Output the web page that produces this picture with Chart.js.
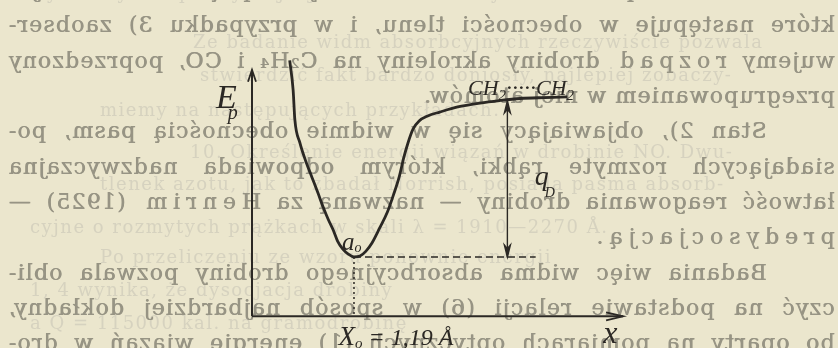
<!DOCTYPE html>
<html lang="pl">
<head>
<meta charset="utf-8">
<title>Krzywa energii potencjalnej</title>
<script src="https://cdn.jsdelivr.net/npm/chart.js@4.4.1/dist/chart.umd.min.js"></script>
<style>
    html, body {
        margin: 0;
        padding: 0;
        background: #ebe6cd;
    }
    #page {
        position: relative;
        width: 838px;
        height: 348px;
        overflow: hidden;
        background: #ebe6cd;
    }
    /* print from the other side of the sheet, seen mirrored */
    #show-through {
        position: absolute;
        left: 8px;
        top: 0;
        width: 827px;
        height: 348px;
        transform: scaleX(-1);
        color: #979484;
        font-family: "DejaVu Serif", serif;
        font-size: 22px;
        letter-spacing: 1.2px;
        text-shadow: 0.6px 0 0 #979484;
        filter: blur(0.55px);
    }
    #show-through .ln {
        position: absolute;
        left: 0;
        width: 100%;
        height: 35px;
        line-height: 35px;
        overflow: hidden;
        text-align: justify;
        text-align-last: justify;
    }
    #show-through .last {
        text-align-last: left;
    }
    #show-through .indent {
        box-sizing: border-box;
        padding-left: 68px;
    }
    .sp {
        letter-spacing: 6px;
    }
    /* faint print of the facing page */
    #facing {
        position: absolute;
        left: 0;
        top: 0;
        width: 838px;
        height: 348px;
        color: #d6d2bf;
        font-family: "DejaVu Serif", serif;
        font-size: 18px;
        letter-spacing: 1.5px;
        filter: blur(0.5px);
    }
    #facing .ln {
        position: absolute;
        white-space: nowrap;
        line-height: 34px;
    }
    #chart {
        position: absolute;
        left: 0;
        top: 0;
    }
</style>
</head>
<body>
<div id="page">
    <div id="facing">
        <div class="ln" style="left:30px;top:-24px">wyznaczyć ciepła dysocjacji drobin na atomy lub rodniki.</div>
        <div class="ln" style="left:193px;top:25px">Ze badanie widm absorbcyjnych rzeczywiście pozwala</div>
        <div class="ln" style="left:200px;top:58px">stwierdzić fakt bardzo doniosły, najlepiej zobaczy-</div>
        <div class="ln" style="left:100px;top:93px">miemy na następujących przykładach.</div>
        <div class="ln" style="left:190px;top:135px">10. Określenie energii wiązań w drobinie NO. Dwu-</div>
        <div class="ln" style="left:100px;top:167px">tlenek azotu, jak to zbadał Norrish, posiada pasma absorb-</div>
        <div class="ln" style="left:30px;top:210px">cyjne o rozmytych prążkach w skali λ = 1910—2270 Å.</div>
        <div class="ln" style="left:100px;top:240px">Po przeliczeniu ze wzoru ponownie energii</div>
        <div class="ln" style="left:30px;top:273px">1, 4 wynika, że dysocjacja drobiny</div>
        <div class="ln" style="left:30px;top:306px">a Q = 115000 kal. na gramodrobinę</div>
    </div>
    <div id="show-through">
        <div class="ln" style="top:-28px">ciśnieniach, odpowiada widmo o ostrych prążkach, reakcje,</div>
        <div class="ln" style="top:7px">które następuje w obecności tlenu, i w przypadku 3) zaobser-</div>
        <div class="ln" style="top:43px">wujemy <span class="sp">rozpad</span> drobiny akroleiny na C₂H₄ i CO, poprzedzony</div>
        <div class="ln last" style="top:78px">przegrupowaniem w niej atomów.</div>
        <div class="ln indent" style="top:113px">Stan 2), objawiający się w widmie obecnością pasm, po-</div>
        <div class="ln" style="top:149px">siadających rozmyte rąbki, którym odpowiada nadzwyczajna</div>
        <div class="ln" style="top:184px">łatwość reagowania drobiny — nazwaną za <span class="sp">Henrim</span> (1925) —</div>
        <div class="ln last" style="top:219px"><span class="sp">predysocjacją</span>.</div>
        <div class="ln indent" style="top:255px">Badania więc widma absorbcyjnego drobiny pozwala obli-</div>
        <div class="ln" style="top:290px">czyć na podstawie relacji (6) w sposób najbardziej dokładny,</div>
        <div class="ln" style="top:325px">bo oparty na pomiarach optycznych (1) energię wiązań w dro-</div>
    </div>
    <canvas id="chart" width="838" height="348"></canvas>
</div>
<script>
// Potential energy curve, distance in Å, energy in arbitrary units (minimum = 0)
const curveX = [0.44, 0.48, 0.50, 0.56, 0.63, 0.70, 0.77, 0.83, 0.89, 0.95, 1.00, 1.06, 1.12, 1.19,
    1.26, 1.33, 1.40, 1.49, 1.58, 1.65, 1.72, 1.77, 1.82, 1.88, 1.95, 2.05, 2.19, 2.40, 2.66, 2.89,
    3.13, 3.42, 3.68];
const curveY = [12.6, 10.7, 8.8, 7.3, 6.1, 5.1, 4.1, 3.2, 2.4, 1.7, 1.0, 0.5, 0.2, 0.0,
    0.06, 0.38, 0.9, 1.86, 2.88, 3.97, 5.19, 6.35, 7.31, 8.21, 8.72, 9.04, 9.29, 9.62, 9.87, 10.03,
    10.16, 10.22, 10.26];

const equilibriumX = 1.19;   // X₀ = 1,19 Å
const minimumEnergy = 0;
const dissociationEnergy = 10;  // q_D
const dissociationX = 2.98;
const levelLineEnd = 3.31;
const xAxisEnd = 4.33;
const yAxisTop = 12;
const axisOrigin = [0, -3.8];

document.addEventListener("DOMContentLoaded", function () {
    const ink = "#2b2824";
    const handFont = "'Liberation Serif', 'DejaVu Serif', serif";

    function pairs(xs, ys) {
        return xs.map((x, i) => ({ x: x, y: ys[i] }));
    }

    function segment(x1, y1, x2, y2, extra) {
        return Object.assign({
            data: [{ x: x1, y: y1 }, { x: x2, y: y2 }],
            showLine: true,
            borderColor: ink,
            borderWidth: 2,
            pointRadius: 0,
            clip: false,
        }, extra || {});
    }

    // Open (or filled) arrowhead from its tip and direction
    function arrowHead(ctx, tx, ty, dx, dy, len, half, filled) {
        const nx = -dy, ny = dx;
        ctx.beginPath();
        ctx.moveTo(tx - dx * len + nx * half, ty - dy * len + ny * half);
        ctx.lineTo(tx, ty);
        ctx.lineTo(tx - dx * len - nx * half, ty - dy * len - ny * half);
        if (filled) {
            ctx.lineTo(tx - dx * len * 0.7, ty - dy * len * 0.7);
            ctx.closePath();
            ctx.fill();
        }
        ctx.stroke();
    }

    // Hand lettered labels: anchor in data units, runs chained left to right
    // (dx/dy nudge a run in pixels, for subscripts)
    const labels = [
        { x: -0.42, y: 9.55, runs: [{ t: "E", s: 34 }, { t: "p", s: 20, dx: -9, dy: 11 }] },
        { x: 2.52, y: 10.38, runs: [{ t: "CH", s: 22 }, { t: "2", s: 15, dy: 5 }, { t: "·····", s: 24 },
            { t: "CH", s: 22 }, { t: "2", s: 15, dy: 5 }] },
        { x: 3.30, y: 4.6, runs: [{ t: "q", s: 28 }, { t: "D", s: 14, dx: -4, dy: 12 }] },
        { x: 1.05, y: 0.45, runs: [{ t: "a", s: 25 }, { t: "o", s: 14, dy: 2 }] },
        { x: 1.01, y: -5.64, runs: [{ t: "X", s: 27 }, { t: "o", s: 15, dy: 3 }, { t: " = 1,19 Å", s: 24 }] },
        { x: 4.10, y: -5.5, runs: [{ t: "x", s: 32 }] },
    ];

    const figurePlugin = {
        id: "figure",
        afterDatasetsDraw(chart) {
            const { ctx, scales } = chart;
            const px = (v) => scales.x.getPixelForValue(v);
            const py = (v) => scales.y.getPixelForValue(v);

            ctx.save();
            ctx.strokeStyle = ink;
            ctx.fillStyle = ink;
            ctx.lineWidth = 1.8;

            // axis arrows
            arrowHead(ctx, px(axisOrigin[0]), py(yAxisTop), 0, -1, 12, 4, false);
            arrowHead(ctx, px(xAxisEnd), py(axisOrigin[1]), 1, 0, 17, 4, false);

            // q_D double arrow
            ctx.lineWidth = 1.4;
            arrowHead(ctx, px(dissociationX), py(dissociationEnergy), 0, -1, 12, 3, true);
            arrowHead(ctx, px(dissociationX), py(minimumEnergy), 0, 1, 12, 3, true);

            ctx.textBaseline = "alphabetic";
            ctx.textAlign = "left";
            labels.forEach(function (l) {
                let cx = px(l.x);
                const cy = py(l.y);
                l.runs.forEach(function (r) {
                    ctx.font = "italic " + r.s + "px " + handFont;
                    cx += r.dx || 0;
                    ctx.fillText(r.t, cx, cy + (r.dy || 0));
                    cx += ctx.measureText(r.t).width;
                });
            });
            ctx.restore();
        },
    };

    new Chart(document.getElementById("chart"), {
        type: "scatter",
        data: {
            datasets: [
                {
                    label: "E_p",
                    data: pairs(curveX, curveY),
                    showLine: true,
                    borderColor: ink,
                    borderWidth: 2.8,
                    pointRadius: 0,
                    cubicInterpolationMode: "monotone",
                    clip: false,
                },
                segment(axisOrigin[0], axisOrigin[1], axisOrigin[0], yAxisTop),
                segment(axisOrigin[0], axisOrigin[1], xAxisEnd, axisOrigin[1]),
                segment(equilibriumX, minimumEnergy, levelLineEnd, minimumEnergy,
                    { borderWidth: 1.5, borderDash: [7, 4] }),
                segment(equilibriumX, minimumEnergy, equilibriumX, axisOrigin[1],
                    { borderWidth: 1.5, borderDash: [2, 3] }),
                segment(dissociationX, minimumEnergy, dissociationX, dissociationEnergy,
                    { borderWidth: 1.4 }),
            ],
        },
        options: {
            responsive: false,
            animation: false,
            events: [],
            layout: {
                padding: { left: 252, right: 157.5, top: 54.2, bottom: 28.6 },
            },
            scales: {
                x: { type: "linear", min: 0, max: 5, display: false },
                y: { type: "linear", min: -4, max: 13, display: false },
            },
            plugins: {
                legend: { display: false },
                tooltip: { enabled: false },
            },
        },
        plugins: [figurePlugin],
    });
});
</script>
</body>
</html>
